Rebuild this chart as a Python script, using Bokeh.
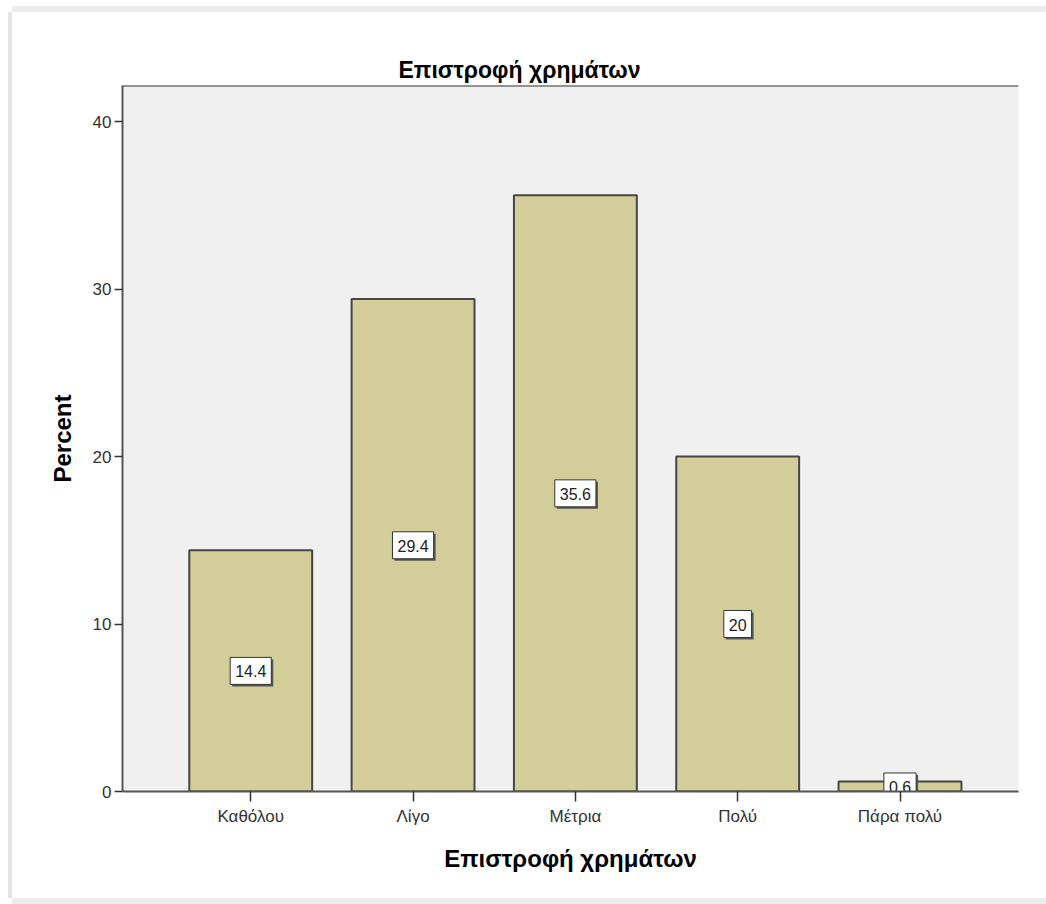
from bokeh.plotting import figure
from bokeh.models import Range1d, FixedTicker, Span, ColumnDataSource
from bokeh.embed import file_html
from bokeh.resources import INLINE
from bokeh.core.properties import value

# Data
categories = ["Καθόλου", "Λίγο", "Μέτρια", "Πολύ", "Πάρα πολύ"]
percents = [14.4, 29.4, 35.6, 20.0, 0.6]
y_ticks = [0, 10, 20, 30, 40]
chart_title = "Επιστροφή χρημάτων"
x_title = "Επιστροφή χρημάτων"
y_title = "Percent"

positions = list(range(1, len(categories) + 1))
source = ColumnDataSource(dict(
    x=positions,
    top=percents,
    mid=[v / 2 for v in percents],
    label=["%g" % v for v in percents],
))

FONT = "Liberation Sans"
y_top = 42.15

p = figure(
    width=1034, height=886,
    x_range=Range1d(0.21, 5.73), y_range=Range1d(0, y_top),
    output_backend="svg", toolbar_location=None,
    min_border_left=110, min_border_right=28,
    min_border_top=73, min_border_bottom=107,
    background_fill_color="#f0f0f0", border_fill_color="white",
    outline_line_color=None,
)
# light grey panel edge around the chart (left, top, bottom)
p.styles = {
    "margin-left": "12px", "margin-top": "12px",
    "box-shadow": "-4px 0 0 #e4e4e4, 0 -6px 0 #ececec, 0 6px 0 #ececec",
}

p.grid.visible = False

# Title
p.title.text = chart_title
p.title.align = "left"
p.title.offset = 276
p.title.text_font = FONT
p.title.text_font_size = "23px"
p.title.text_font_style = "bold"
p.title.text_color = "black"
p.title.standoff = 6

# Bars
p.vbar(x="x", top="top", width=0.757, source=source,
       fill_color="#d3ce99", line_color="#454545", line_width=2)

# Value boxes (shadow then box)
pad = dict(left=5, right=5, top=8, bottom=7)
p.text(x="x", y="mid", text="label", source=source,
       text_font=value(FONT), text_font_size="16px", text_alpha=0,
       text_align="center", text_baseline="middle",
       x_offset=2, y_offset=2,
       background_fill_color="#555555", padding=pad)
p.text(x="x", y="mid", text="label", source=source,
       text_font=value(FONT), text_font_size="16px", text_color="#222222",
       text_align="center", text_baseline="middle",
       background_fill_color="white",
       border_line_color="#333333", border_line_width=1, padding=pad)

# Top frame line
p.add_layout(Span(location=y_top, dimension="width",
                  line_color="#333333", line_width=2))

# Axes
xa = p.xaxis[0]
xa.ticker = FixedTicker(ticks=positions)
xa.major_label_overrides = {i: c for i, c in zip(positions, categories)}
xa.axis_label = x_title
xa.axis_line_color = "#555555"
xa.axis_line_width = 2
xa.major_tick_line_color = "#333333"
xa.major_tick_line_width = 1.5
xa.major_tick_out = 10
xa.major_tick_in = 0
xa.minor_tick_line_color = None
xa.major_label_standoff = 5
xa.major_label_text_font = FONT
xa.major_label_text_font_size = "17px"
xa.major_label_text_color = "#333333"
xa.axis_label_standoff = 16
xa.axis_label_text_font = FONT
xa.axis_label_text_font_size = "24px"
xa.axis_label_text_font_style = "bold"
xa.axis_label_text_color = "black"

ya = p.yaxis[0]
ya.ticker = FixedTicker(ticks=y_ticks)
ya.axis_label = y_title
ya.axis_line_color = "#555555"
ya.axis_line_width = 2
ya.major_tick_line_color = "#333333"
ya.major_tick_line_width = 1.5
ya.major_tick_out = 8
ya.major_tick_in = 0
ya.minor_tick_line_color = None
ya.major_label_standoff = 3
ya.major_label_text_font = FONT
ya.major_label_text_font_size = "17px"
ya.major_label_text_color = "#333333"
ya.axis_label_standoff = 14
ya.axis_label_text_font = FONT
ya.axis_label_text_font_size = "24px"
ya.axis_label_text_font_style = "bold"
ya.axis_label_text_color = "black"

open("out.html", "w").write(file_html(p, INLINE))
